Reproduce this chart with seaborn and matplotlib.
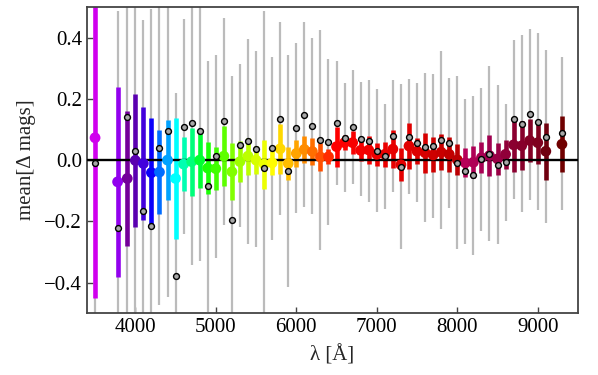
import numpy as np
import pandas as pd
import matplotlib
matplotlib.use('Agg')
import matplotlib.pyplot as plt
import seaborn as sns
from matplotlib.colors import LinearSegmentedColormap

# filter central wavelengths [A]
wavelength = [3500, 3780, 3900, 4000, 4100, 4200, 4300, 4400, 4500, 4600,
              4700, 4800, 4900, 5000, 5100, 5200, 5300, 5400, 5500, 5600,
              5700, 5800, 5900, 6000, 6100, 6200, 6300, 6400, 6500, 6600,
              6700, 6800, 6900, 7000, 7100, 7200, 7300, 7400, 7500, 7600,
              7700, 7800, 7900, 8000, 8100, 8200, 8300, 8400, 8500, 8600,
              8700, 8800, 8900, 9000, 9100, 9300]

# mean delta mag and its error (coloured bars)
mean_dmag = [0.073, -0.071, -0.060, -0.001, -0.011, -0.041, -0.039, 0.000, -0.060, -0.013,
             -0.005, 0.000, -0.026, -0.028, 0.013, -0.038, -0.005, 0.013, 0.000, -0.013,
             -0.009, 0.037, -0.011, 0.022, 0.035, 0.028, 0.010, 0.011, 0.044, 0.057,
             0.057, 0.032, 0.033, 0.019, 0.019, 0.036, -0.015, 0.046, 0.029, 0.024,
             0.017, 0.026, 0.019, 0.001, -0.009, -0.007, 0.008, 0.015, 0.004, 0.019,
             0.050, 0.047, 0.064, 0.057, 0.029, 0.052]
mean_err = [0.525, 0.310, 0.221, 0.218, 0.184, 0.179, 0.136, 0.130, 0.199, 0.088,
            0.111, 0.091, 0.085, 0.070, 0.097, 0.093, 0.068, 0.060, 0.046, 0.080,
            0.038, 0.081, 0.055, 0.043, 0.044, 0.044, 0.046, 0.025, 0.065, 0.025,
            0.038, 0.035, 0.045, 0.037, 0.040, 0.061, 0.053, 0.074, 0.043, 0.066,
            0.057, 0.058, 0.058, 0.051, 0.047, 0.053, 0.050, 0.067, 0.052, 0.047,
            0.090, 0.080, 0.071, 0.070, 0.093, 0.092]

# median delta mag and scatter (grey bars)
median_dmag = [-0.009, -0.223, 0.140, 0.030, -0.165, -0.216, 0.039, 0.095, -0.380, 0.109,
               0.122, 0.096, -0.085, 0.013, 0.127, -0.196, 0.048, 0.061, 0.035, -0.025,
               0.038, 0.136, -0.036, 0.106, 0.148, 0.111, 0.065, 0.059, 0.121, 0.073,
               0.108, 0.069, 0.062, 0.031, 0.013, 0.079, -0.021, 0.077, 0.057, 0.042,
               0.047, 0.067, 0.056, -0.008, -0.036, -0.049, 0.003, 0.021, -0.015, -0.007,
               0.133, 0.119, 0.150, 0.126, 0.077, 0.088]
scatter = [0.750, 0.710, 0.700, 0.600, 0.624, 0.710, 0.514, 0.542, 0.600, 0.351,
           0.466, 0.426, 0.410, 0.332, 0.339, 0.472, 0.267, 0.336, 0.320, 0.512,
           0.300, 0.316, 0.378, 0.278, 0.302, 0.288, 0.360, 0.271, 0.203, 0.178,
           0.187, 0.186, 0.200, 0.201, 0.172, 0.183, 0.270, 0.187, 0.195, 0.243,
           0.235, 0.291, 0.214, 0.282, 0.237, 0.260, 0.233, 0.286, 0.259, 0.192,
           0.260, 0.290, 0.280, 0.290, 0.282, 0.250]

# rainbow-ish colour anchors along wavelength
cmap_wl = [3500, 3780, 3900, 4000, 4100, 4200, 4300, 4400, 4500, 4600, 4700, 4800,
           4900, 5000, 5200, 5400, 5600, 5700, 5800, 5900, 6000, 6200, 6400, 6500,
           7500, 8000, 8100, 8400, 8700, 9000, 9100, 9300]
cmap_col = ['#d000ee', '#9000ee', '#700090', '#5a00b0', '#4000e0', '#0000ff', '#0070ff',
            '#00aaff', '#00ffff', '#00ffaa', '#00ff70', '#00ff30', '#20ff00', '#40ff00',
            '#80ff00', '#c0ff00', '#eeff00', '#ffff00', '#ffd700', '#ffbb00', '#ffa500',
            '#ff7000', '#ff3000', '#ff0000', '#dd0000', '#bb0000', '#b8005a', '#a00050',
            '#8b0030', '#800020', '#700010', '#700000']

df = pd.DataFrame({'wl': wavelength, 'mean': mean_dmag, 'err': mean_err,
                   'median': median_dmag, 'scatter': scatter})

pos = (np.array(cmap_wl) - cmap_wl[0]) / (cmap_wl[-1] - cmap_wl[0])
cmap = LinearSegmentedColormap.from_list('wl', list(zip(pos, cmap_col)))
colors = [cmap((w - cmap_wl[0]) / (cmap_wl[-1] - cmap_wl[0])) for w in df['wl']]

sns.set_style('ticks')
plt.rcParams['font.family'] = ['Liberation Serif', 'DejaVu Serif']
plt.rcParams['font.size'] = 15

fig, ax = plt.subplots(figsize=(5.98, 3.75), dpi=100)
fig.subplots_adjust(left=0.1455, right=0.9666, top=0.981, bottom=0.165)

# grey scatter bars around the median
ax.vlines(df['wl'], df['median'] - df['scatter'], df['median'] + df['scatter'],
          color='#bbbbbb', linewidth=1.6, zorder=1)

# coloured error bars on the mean
ax.vlines(df['wl'], df['mean'] - df['err'], df['mean'] + df['err'],
          colors=colors, linewidth=3.3, zorder=2)

ax.axhline(0, color='black', linewidth=1.7, zorder=3)

sns.scatterplot(data=df, x='wl', y='mean', hue='wl', palette=colors, legend=False,
                s=60, linewidth=0, zorder=4, ax=ax)
sns.scatterplot(data=df, x='wl', y='median', color='#a8a8a8', edgecolor='black',
                s=18, linewidth=1.0, zorder=5, ax=ax)

ax.set_xlim(3400, 9500)
ax.set_ylim(-0.5, 0.5)
ax.set_xticks([4000, 5000, 6000, 7000, 8000, 9000])
ax.set_yticks([-0.4, -0.2, 0.0, 0.2, 0.4])
ax.set_xlabel('λ [Å]', fontsize=15, labelpad=6)
ax.set_ylabel('mean[Δ mags]', fontsize=15, labelpad=6)
ax.tick_params(direction='in', length=4, width=1, colors='#444444', labelcolor='black',
               labelsize=15, top=False, right=False)
for sp in ax.spines.values():
    sp.set_color('#444444')
    sp.set_linewidth(1.3)

fig.savefig('out.png', dpi=100)
